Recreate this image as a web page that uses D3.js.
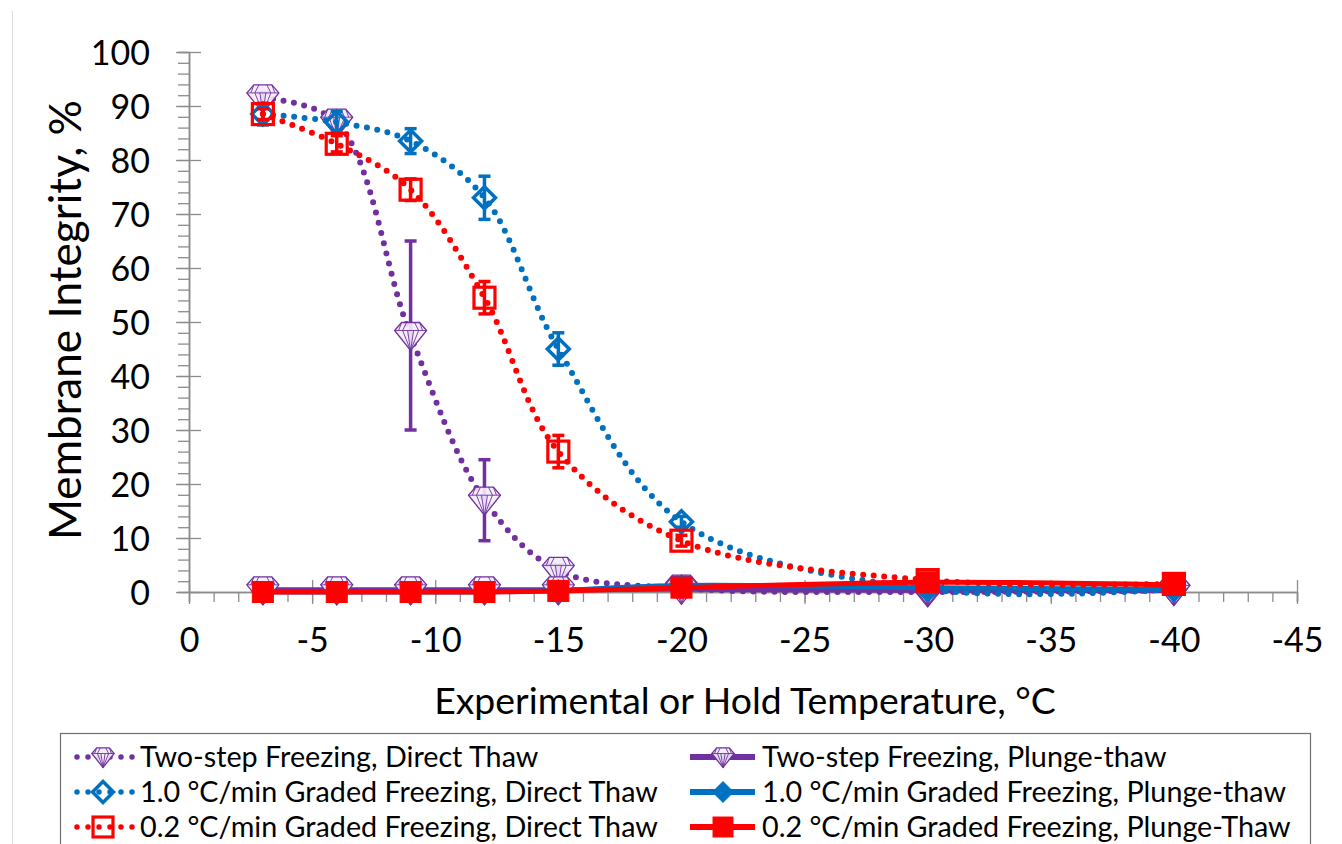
<!DOCTYPE html>
<html>
<head>
<meta charset="utf-8">
<script src="https://cdn.jsdelivr.net/npm/d3@7"></script>
<style>
  body { margin: 0; background: #fff; }
  text { font-family: Lato, "Open Sans", sans-serif; fill: #000; }
</style>
</head>
<body>
<svg id="chart" width="1342" height="844"></svg>
<script>
// data
const temps = [-3, -6, -9, -12, -15, -20, -30, -40];

const twoStepDirect = [91.5, 87, 47.5, 17, 4, 0.7, 0, 0.3];
const twoStepDirectErr = [1, 1, 17.5, 7.5, 1, 0.5, 0, 0];
const twoStepPlunge = [0.4, 0.4, 0.4, 0.4, 0.4, 0.5, 0.3, 0.3];

const gradedOneDirect = [88.5, 87, 83.5, 73, 45, 13, 0.5, 0.5];
const gradedOneDirectErr = [2, 2, 2.3, 4, 3, 1, 0, 0];
const gradedOnePlunge = [0, 0, 0, 0, 0.3, 1.2, 0.8, 0.5];

const gradedPointTwoDirect = [88.5, 83, 74.5, 54.5, 26, 9.5, 2.2, 1.5];
const gradedPointTwoDirectErr = [1, 1.5, 2, 3, 3, 1, 0.5, 0.5];
const gradedPointTwoPlunge = [0, 0, 0, 0, 0.2, 0.8, 1.8, 1.3];

const xTicks = [0, -5, -10, -15, -20, -25, -30, -35, -40, -45];
const yTicks = [0, 10, 20, 30, 40, 50, 60, 70, 80, 90, 100];

const PURPLE = '#7030a0', BLUE = '#0070c0', RED = '#ff0000';

const series = [
  { name: 'Two-step Freezing, Direct Thaw', values: twoStepDirect, err: twoStepDirectErr, color: PURPLE, dotted: true, marker: 'gem' },
  { name: 'Two-step Freezing, Plunge-thaw', values: twoStepPlunge, err: null, color: PURPLE, dotted: false, marker: 'gem' },
  { name: '1.0 °C/min Graded Freezing, Direct Thaw', values: gradedOneDirect, err: gradedOneDirectErr, color: BLUE, dotted: true, marker: 'diamondOpen' },
  { name: '1.0 °C/min Graded Freezing, Plunge-thaw', values: gradedOnePlunge, err: null, color: BLUE, dotted: false, marker: 'diamond' },
  { name: '0.2 °C/min Graded Freezing, Direct Thaw', values: gradedPointTwoDirect, err: gradedPointTwoDirectErr, color: RED, dotted: true, marker: 'squareOpen' },
  { name: '0.2 °C/min Graded Freezing, Plunge-Thaw', values: gradedPointTwoPlunge, err: null, color: RED, dotted: false, marker: 'square' }
];

const svg = d3.select('#chart');

const x = d3.scaleLinear().domain([0, -45]).range([189, 1297]);
const y = d3.scaleLinear().domain([0, 100]).range([592, 52]);

// faint outer border of the chart area
svg.append('line').attr('x1', 12.5).attr('x2', 12.5).attr('y1', 11).attr('y2', 844)
  .attr('stroke', '#d9d9d9').attr('stroke-width', 1);

// ---- axes ----
const AXIS = '#8c8c8c';

const xMinor = svg.append('g').attr('transform', `translate(0,${y(0)})`)
  .call(d3.axisBottom(x).tickValues(d3.range(0, -46, -1)).tickSize(10).tickFormat(''));
const xMajor = svg.append('g').attr('transform', `translate(0,${y(0)})`)
  .call(d3.axisBottom(x).tickValues(xTicks).tickSizeInner(12).tickSizeOuter(0).tickFormat(d => d));
xMajor.selectAll('.tick line').attr('y1', -12);
xMajor.selectAll('.tick text').attr('y', 60).attr('dy', null).attr('font-size', 34).attr('font-family', 'Lato');

const yMinor = svg.append('g').attr('transform', `translate(${x(0)},0)`)
  .call(d3.axisLeft(y).tickValues(d3.range(0, 101, 2)).tickSize(11).tickFormat(''));
const yMajor = svg.append('g').attr('transform', `translate(${x(0)},0)`)
  .call(d3.axisLeft(y).tickValues(yTicks).tickSizeInner(13).tickSizeOuter(0));
yMajor.selectAll('.tick line').attr('x1', 12);
yMajor.selectAll('.tick text').attr('x', -39).attr('dy', '0.36em').attr('font-size', 34).attr('font-family', 'Lato');

[xMinor, xMajor, yMinor, yMajor].forEach(g => {
  g.selectAll('.domain').attr('stroke', AXIS).attr('stroke-width', 1.5);
  g.selectAll('.tick line').attr('stroke', AXIS).attr('stroke-width', 1.3);
  g.selectAll('.tick text').attr('fill', '#000');
});

// axis titles, sized to the reference widths
function fitWidth(sel, width) {
  const w = sel.node().getComputedTextLength();
  const fs = parseFloat(sel.attr('font-size'));
  sel.attr('font-size', fs * width / w);
  return fs * width / w;
}

const xTitle = svg.append('text').attr('x', 745).attr('y', 714).attr('text-anchor', 'middle')
  .attr('font-size', 34).text('Experimental or Hold Temperature, °C');
fitWidth(xTitle, 622);

const yTitle = svg.append('text').attr('transform', 'translate(81,320) rotate(-90)')
  .attr('text-anchor', 'middle').attr('font-size', 34).text('Membrane Integrity, %');
fitWidth(yTitle, 440);

// ---- markers ----
function drawMarker(g, kind, color, s = 1) {
  if (kind === 'gem') {
    const k = s;
    g.append('path')
      .attr('d', `M${-9 * k},${-13 * k}L${9 * k},${-13 * k}L${16 * k},${-5 * k}L0,${15 * k}L${-16 * k},${-5 * k}Z`)
      .attr('fill', '#f3ecf9').attr('fill-opacity', 0.9)
      .attr('stroke', color).attr('stroke-width', 1.3);
    g.append('path')
      .attr('d', `M${-16 * k},${-5 * k}L${16 * k},${-5 * k}` +
        `M${-4 * k},${-13 * k}L${-8 * k},${-5 * k}M${4 * k},${-13 * k}L${8 * k},${-5 * k}` +
        `M${-9 * k},${-13 * k}L${-12 * k},${-5 * k}M${9 * k},${-13 * k}L${12 * k},${-5 * k}` +
        `M${-8 * k},${-5 * k}L0,${15 * k}M${8 * k},${-5 * k}L0,${15 * k}` +
        `M${-3 * k},${-5 * k}L0,${15 * k}M${3 * k},${-5 * k}L0,${15 * k}`)
      .attr('fill', 'none').attr('stroke', color).attr('stroke-width', 0.9);
  } else if (kind === 'diamondOpen' || kind === 'diamond') {
    const r = 11 * s;
    g.append('path').attr('d', `M0,${-r}L${r},0L0,${r}L${-r},0Z`)
      .attr('fill', kind === 'diamond' ? color : 'none')
      .attr('stroke', color).attr('stroke-width', kind === 'diamond' ? 1 : 3.5);
  } else {
    const h = 10.5 * s;
    g.append('rect').attr('x', -h).attr('y', -h).attr('width', 2 * h).attr('height', 2 * h)
      .attr('fill', kind === 'square' ? color : 'none')
      .attr('stroke', color).attr('stroke-width', kind === 'square' ? 1 : 3.2);
  }
}

const line = d3.line()
  .x(d => x(d[0]))
  .y(d => y(d[1]))
  .curve(d3.curveCatmullRom.alpha(0.5));

const plot = svg.append('g');

series.forEach(s => {
  const pts = temps.map((t, i) => [t, s.values[i], s.err ? s.err[i] : 0]);
  const g = plot.append('g');

  g.append('path').datum(pts)
    .attr('d', line)
    .attr('fill', 'none')
    .attr('stroke', s.color)
    .attr('stroke-width', s.dotted ? 6 : 5)
    .attr('stroke-linecap', s.dotted ? 'round' : 'butt')
    .attr('stroke-dasharray', s.dotted ? '0 10.5' : null);

  if (s.err) {
    const eb = g.selectAll('g.err').data(pts.filter(d => d[2] > 0)).join('g').attr('class', 'err');
    eb.append('line')
      .attr('x1', d => x(d[0])).attr('x2', d => x(d[0]))
      .attr('y1', d => y(d[1] + d[2])).attr('y2', d => y(d[1] - d[2]))
      .attr('stroke', s.color).attr('stroke-width', 3.5);
    eb.selectAll('line.cap').data(d => [[d[0], d[1] + d[2]], [d[0], d[1] - d[2]]]).join('line')
      .attr('class', 'cap')
      .attr('x1', d => x(d[0]) - 6).attr('x2', d => x(d[0]) + 6)
      .attr('y1', d => y(d[1])).attr('y2', d => y(d[1]))
      .attr('stroke', s.color).attr('stroke-width', 3.5);
  }

  g.selectAll('g.mk').data(pts).join('g').attr('class', 'mk')
    .attr('transform', d => `translate(${x(d[0])},${y(d[1])})`)
    .each(function () { drawMarker(d3.select(this), s.marker, s.color); });
});

// ---- legend ----
const legend = svg.append('g');
legend.append('rect').attr('x', 60.5).attr('y', 733.5).attr('width', 1250).attr('height', 130)
  .attr('fill', '#fff').attr('stroke', '#6e6e6e').attr('stroke-width', 1.2);

const rowsY = [757, 792, 827];
const colX = [75, 695];

// one font size for every legend entry, taken from the longest left-column label
const probe = legend.append('text').attr('font-size', 27).text(series[2].name);
const legendFont = fitWidth(probe, 518);
probe.remove();

series.forEach((s, i) => {
  const col = i % 2, row = Math.floor(i / 2);
  const cy = rowsY[row];
  const g = legend.append('g');
  if (s.dotted) {
    g.append('line').attr('x1', colX[col] + 2).attr('x2', colX[col] + 58).attr('y1', cy).attr('y2', cy)
      .attr('stroke', s.color).attr('stroke-width', 5.5).attr('stroke-linecap', 'round')
      .attr('stroke-dasharray', '0 11');
  } else {
    g.append('line').attr('x1', colX[col] - 5).attr('x2', colX[col] + 60).attr('y1', cy).attr('y2', cy)
      .attr('stroke', s.color).attr('stroke-width', 6);
  }
  const mk = g.append('g').attr('transform', `translate(${colX[col] + 28},${cy})`);
  drawMarker(mk, s.marker, s.color, s.marker === 'gem' ? 0.7 : 0.95);
  g.append('text').attr('x', col === 0 ? 140 : 762).attr('y', cy + 10)
    .attr('font-size', legendFont).text(s.name);
});
</script>
</body>
</html>
